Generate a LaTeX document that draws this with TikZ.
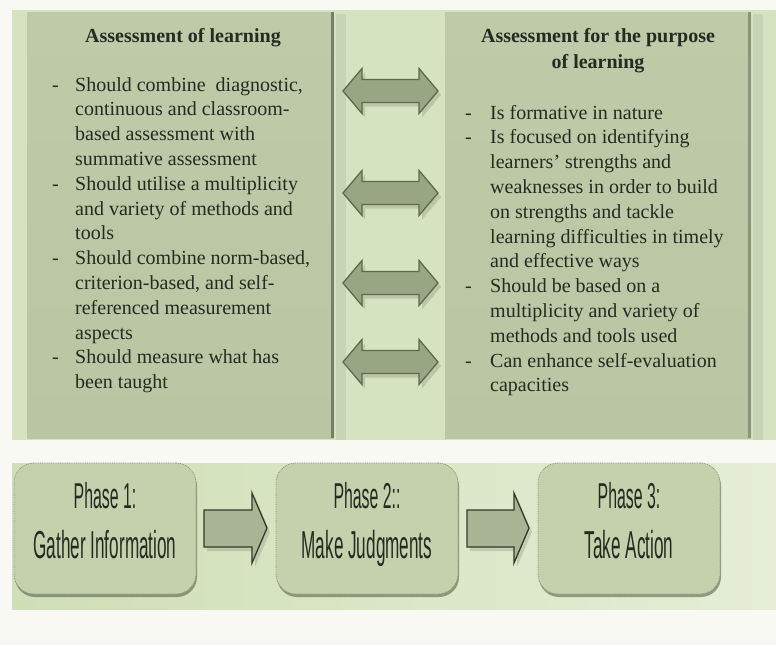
\documentclass[tikz,border=0pt]{standalone}
\usepackage{fontspec}
\setmainfont{Liberation Serif}
\newfontfamily\phasefont[FakeStretch=0.44]{Liberation Sans}
\definecolor{pagebg}{RGB}{247,249,242}
\definecolor{panelbg}{RGB}{213,227,192}
\definecolor{boxfill}{RGB}{185,197,163}
\definecolor{boxtop}{RGB}{190,202,168}
\definecolor{boxedge}{RGB}{118,128,102}
\definecolor{arrfill}{RGB}{152,166,132}
\definecolor{arrline}{RGB}{92,106,78}
\definecolor{txt}{RGB}{38,42,32}
\definecolor{phasefill}{RGB}{196,209,172}
\definecolor{phaseline}{RGB}{135,146,118}
\definecolor{phaseshadow}{RGB}{78,88,64}
\definecolor{bottomL}{RGB}{207,223,183}
\definecolor{bottomR}{RGB}{229,238,213}
\definecolor{parrfill}{RGB}{168,180,148}
\definecolor{parrline}{RGB}{50,58,42}
\tikzset{
  colbox/.style={rectangle, inner sep=0pt, top color=boxtop, bottom color=boxfill},
  titletxt/.style={inner sep=0pt, text=txt, font=\fontsize{20}{26}\selectfont\bfseries},
  bodytxt/.style={inner sep=0pt, text=txt, font=\fontsize{20}{24.8}\selectfont},
  dblarrow/.style={fill=arrfill, draw=arrline, line width=1.3pt, line join=miter},
  dblshadow/.style={fill=black, opacity=0.12},
  phasebox/.style={rectangle, rounded corners=20pt, inner sep=0pt, minimum width=182pt, minimum height=131pt, fill=phasefill, draw=phaseline, densely dotted, line width=0.8pt},
  phaseshad/.style={rectangle, rounded corners=20pt, inner sep=0pt, minimum width=182pt, minimum height=131pt, fill=phaseshadow},
  phasetxtA/.style={inner sep=0pt, text=txt, font=\phasefont\fontsize{36}{40}\selectfont},
  phasetxtB/.style={inner sep=0pt, text=txt, font=\phasefont\fontsize{39}{44}\selectfont},
  phasearrow/.style={fill=parrfill, draw=parrline, line width=1.3pt, line join=miter}
}
\begin{document}
\begin{tikzpicture}[x=1pt,y=-1pt]
\useasboundingbox (0,0) rectangle (776,645);
\fill[pagebg] (0,0) rectangle (776,645);
% top panel
\fill[panelbg] (12,10) rectangle (776,440);
% box shadows
\fill[black, opacity=0.06] (336,14) rectangle (346,440);
\fill[black, opacity=0.06] (753,14) rectangle (763,440);
\node[colbox, minimum width=307pt, minimum height=426pt] (leftbox) at (180.5,225) {};
\node[colbox, minimum width=306pt, minimum height=426pt] (rightbox) at (598,225) {};
\fill[boxedge] ([xshift=-3pt]leftbox.north east) rectangle (leftbox.south east);
\fill[boxedge, opacity=0.7] ([xshift=-3pt]rightbox.north east) rectangle (rightbox.south east);
% titles
\node[titletxt, anchor=base] (ltitle) at (183,42) {Assessment of learning};
\node[titletxt, anchor=base] (rtitle) at (598,42) {\begin{tabular}[t]{@{}c@{}}Assessment for the purpose\\ of learning\end{tabular}};
% bodies
\node[bodytxt, anchor=base west] (lbody) at (52,91) {\begin{tabular}[t]{@{}p{23pt}@{}l@{}}
-&Should combine~ diagnostic,\\
&continuous and classroom-\\
&based assessment with\\
&summative assessment\\
-&Should utilise a multiplicity\\
&and variety of methods and\\
&tools\\
-&Should combine norm-based,\\
&criterion-based, and self-\\
&referenced measurement\\
&aspects\\
-&Should measure what has\\
&been taught
\end{tabular}};
\node[bodytxt, anchor=base west] (rbody) at (465,119) {\begin{tabular}[t]{@{}p{25pt}@{}l@{}}
-&Is formative in nature\\
-&Is focused on identifying\\
&learners' strengths and\\
&weaknesses in order to build\\
&on strengths and tackle\\
&learning difficulties in timely\\
&and effective ways\\
-&Should be based on a\\
&multiplicity and variety of\\
&methods and tools used\\
-&Can enhance self-evaluation\\
&capacities
\end{tabular}};
% double arrows
\foreach \c/\nm in {91/a1,193/a2,283/a3,362/a4}{
  \coordinate (\nm) at (390.5,\c);
  \fill[dblshadow, shift={(3,4)}] (343,\c) -- (362,\c-22.5) -- (362,\c-11.5) -- (419,\c-11.5) -- (419,\c-22.5) -- (438,\c) -- (419,\c+22.5) -- (419,\c+11.5) -- (362,\c+11.5) -- (362,\c+22.5) -- cycle;
  \draw[dblarrow] (343,\c) -- (362,\c-22.5) -- (362,\c-11.5) -- (419,\c-11.5) -- (419,\c-22.5) -- (438,\c) -- (419,\c+22.5) -- (419,\c+11.5) -- (362,\c+11.5) -- (362,\c+22.5) -- cycle;
}
% bottom panel
\shade[left color=bottomL, right color=bottomR] (12,463) rectangle (776,609);
% phase boxes
\foreach \x/\nm in {105/p1,367/p2,629/p3}{
  \node[phaseshad, opacity=0.55] at (\x+1,531.5) {};
  \node[phasebox] (\nm) at (\x,528.5) {};
}
\node[phasetxtA, anchor=base] (p1a) at (105,508) {Phase 1:};
\node[phasetxtB, anchor=base] (p1b) at (105,558) {Gather Information};
\node[phasetxtA, anchor=base] (p2a) at (367,508) {Phase 2::};
\node[phasetxtB, anchor=base] (p2b) at (367,558) {Make Judgments};
\node[phasetxtA, anchor=base] (p3a) at (629,508) {Phase 3:};
\node[phasetxtB, anchor=base] (p3b) at (629,558) {Take Action};
% phase arrows
\fill[black, opacity=0.12, shift={(3,4)}] (204,510) -- (252,510) -- (252,493) -- (267,528) -- (252,563) -- (252,547) -- (204,547) -- cycle;
\draw[phasearrow] (204,510) -- (252,510) -- (252,493) -- (267,528) -- (252,563) -- (252,547) -- (204,547) -- cycle;
\fill[black, opacity=0.12, shift={(3,4)}] (467,510) -- (514,510) -- (514,493) -- (529,528) -- (514,563) -- (514,547) -- (467,547) -- cycle;
\draw[phasearrow] (467,510) -- (514,510) -- (514,493) -- (529,528) -- (514,563) -- (514,547) -- (467,547) -- cycle;
\end{tikzpicture}
\end{document}
